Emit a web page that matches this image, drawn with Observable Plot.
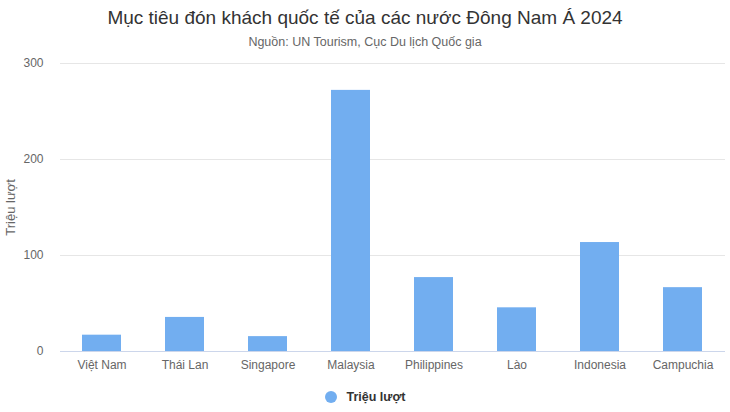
<!DOCTYPE html>
<html>
<head>
<meta charset="utf-8">
<script src="https://cdn.jsdelivr.net/npm/d3@7"></script>
<script src="https://cdn.jsdelivr.net/npm/@observablehq/plot@0.6"></script>
<style>
  html, body { margin: 0; padding: 0; background: #ffffff; }
  #wrap { position: relative; width: 730px; height: 412px; font-family: "Liberation Sans", Arial, Helvetica, sans-serif; background: #fff; overflow: hidden; }
  #title { position: absolute; left: 0; width: 730px; top: 7px; text-align: center; font-size: 19px; color: #333333; }
  #subtitle { position: absolute; left: 0; width: 730px; top: 35px; text-align: center; font-size: 12.5px; color: #666666; }
  #chart { position: absolute; left: 0; top: 55px; }
  #legend { position: absolute; top: 390px; left: 0; width: 730px; display: flex; justify-content: center; align-items: center; font-size: 12.5px; font-weight: bold; color: #333333; }
  #legend .dot { width: 12px; height: 12px; border-radius: 50%; background: #72aef0; margin-right: 10px; }
</style>
</head>
<body>
<div id="wrap">
  <div id="title">Mục tiêu đón khách quốc tế của các nước Đông Nam Á 2024</div>
  <div id="subtitle">Nguồn: UN Tourism, Cục Du lịch Quốc gia</div>
  <div id="chart"></div>
  <div id="legend"><span class="dot"></span><span>Triệu lượt</span></div>
</div>
<script>
const countries = ["Việt Nam", "Thái Lan", "Singapore", "Malaysia", "Philippines", "Lào", "Indonesia", "Campuchia"];
const values = [17, 35.5, 15.5, 272, 77, 45.5, 113.5, 66.5];
const yTicks = [0, 100, 200, 300];
const seriesName = "Triệu lượt";

const data = countries.map((c, i) => ({country: c, value: values[i]}));

const plot = Plot.plot({
  width: 730,
  height: 330,
  marginLeft: 60,
  marginRight: 5,
  marginTop: 8,
  marginBottom: 34,
  style: { fontFamily: "'Liberation Sans', Arial, Helvetica, sans-serif", fontSize: "12px", color: "#666666", background: "transparent" },
  x: { domain: countries, paddingInner: 0.53, paddingOuter: 0.265, label: null },
  y: { domain: [0, 300], ticks: yTicks, label: seriesName },
  marks: [
    Plot.gridY(yTicks, { stroke: "#e6e6e6", strokeOpacity: 1 }),
    Plot.barY(data, { x: "country", y: "value", fill: "#72aef0" }),
    Plot.ruleY([0], { stroke: "#ccd6eb" }),
    Plot.axisX({ tickSize: 0, tickPadding: 9, fill: "#666666", fontSize: 12 }),
    Plot.axisY(yTicks, { tickSize: 0, tickPadding: 17, fill: "#666666", fontSize: 12, label: seriesName, labelAnchor: "center", labelArrow: "none", labelOffset: 55 })
  ]
});
const yLabel = plot.querySelector('g[aria-label="y-axis label"] text');
if (yLabel) yLabel.setAttribute("font-size", "13");
document.getElementById("chart").appendChild(plot);
</script>
</body>
</html>
